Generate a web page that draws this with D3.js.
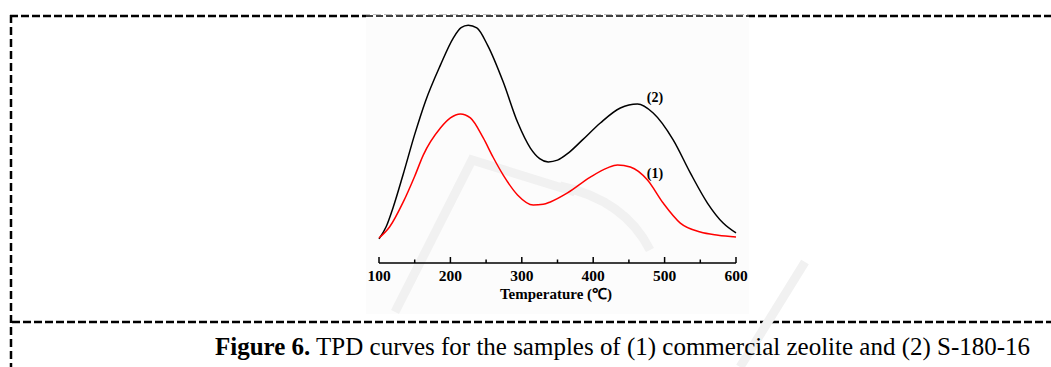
<!DOCTYPE html>
<html>
<head>
<meta charset="utf-8">
<script src="https://cdn.jsdelivr.net/npm/d3@7"></script>
<style>
  body { margin: 0; background: #fff; }
  svg text, svg tspan { font-family: "Liberation Serif", "Times New Roman", serif; }
</style>
</head>
<body>
<svg id="chart" width="1051" height="367"></svg>
<script>
/* Data (temperature in C, signal in arbitrary units) */
var blackTemps = [100, 110, 120, 134, 150, 165, 186, 204, 215, 225, 237, 252, 274, 294, 312, 325, 337, 350, 365, 385, 410, 438, 462, 484, 512, 536, 560, 582, 600];
var blackValues = [0.5, 6, 15, 30, 48, 63, 79.5, 91.8, 96.5, 97.6, 96.4, 88.6, 71.8, 53.6, 41.8, 37, 35.5, 36.3, 39.5, 45.5, 53.2, 60, 61.8, 57.7, 45.5, 30.5, 16.8, 7.7, 3.2];

var redTemps = [100, 115, 134, 150, 162, 186, 200, 214, 228, 246, 260, 274, 294, 316, 330, 340, 364, 396, 420, 434, 452, 476, 498, 522, 550, 575, 600];
var redValues = [0.9, 6, 17.3, 29, 38.6, 50.9, 55.5, 57.3, 55.5, 46.4, 37.5, 29.5, 20.5, 15.9, 16.2, 17.3, 21.4, 28.6, 32.8, 34.1, 33.2, 27.3, 16.8, 7.7, 3.6, 2.2, 1.4];

var majorTicks = [100, 200, 300, 400, 500, 600];
var minorTicks = [150, 250, 350, 450, 550];

var svg = d3.select('#chart');

// scales for the plot area
var x = d3.scaleLinear().domain([100, 600]).range([379, 736]);
var y = d3.scaleLinear().domain([0, 100]).range([240, 20]);
var axisY = 263;

/* page frame (dashed lines of the paper layout) */
svg.append('line')
   .attr('x1', 10).attr('x2', 1051).attr('y1', 16).attr('y2', 16)
   .attr('stroke', '#000').attr('stroke-width', 2.5).attr('stroke-dasharray', '8,3');
svg.append('line')
   .attr('x1', 11).attr('x2', 11).attr('y1', 15).attr('y2', 367)
   .attr('stroke', '#000').attr('stroke-width', 2.5).attr('stroke-dasharray', '8,4');
svg.append('line')
   .attr('x1', 12).attr('x2', 1051).attr('y1', 322).attr('y2', 322)
   .attr('stroke', '#000').attr('stroke-width', 2.5).attr('stroke-dasharray', '8,3');

// the pasted figure image sits on an almost white background
svg.append('rect')
   .attr('x', 366).attr('y', 15).attr('width', 383).attr('height', 299)
   .attr('fill', '#fcfcfc');
svg.append('line')
   .attr('x1', 366).attr('x2', 749).attr('y1', 16).attr('y2', 16)
   .attr('stroke', '#000').attr('stroke-width', 1.4).attr('stroke-dasharray', '7,3');

/* faint watermark strokes */
var wm = svg.append('g').attr('fill', 'none').attr('stroke', '#f1f1f1').attr('stroke-width', 9);
wm.append('path').attr('d', 'M395,312 L472,160 L575,192');
wm.append('path').attr('d', 'M560,186 Q625,200 650,250');
wm.append('path').attr('d', 'M740,367 L805,262');

/* x axis */
var g = svg.append('g').attr('transform', 'translate(0,' + axisY + ')');

g.append('line')
 .attr('x1', x(100)).attr('x2', x(600))
 .attr('stroke', '#000').attr('stroke-width', 1.5);

g.selectAll('.major').data(majorTicks).enter().append('line')
 .attr('class', 'major')
 .attr('x1', function(d) { return x(d); }).attr('x2', function(d) { return x(d); })
 .attr('y1', 0).attr('y2', -6)
 .attr('stroke', '#000').attr('stroke-width', 1.5);

g.selectAll('.minor').data(minorTicks).enter().append('line')
 .attr('class', 'minor')
 .attr('x1', function(d) { return x(d); }).attr('x2', function(d) { return x(d); })
 .attr('y1', 0).attr('y2', -3.5)
 .attr('stroke', '#000').attr('stroke-width', 1.5);

g.selectAll('.tlabel').data(majorTicks).enter().append('text')
 .attr('class', 'tlabel')
 .attr('x', function(d) { return x(d); })
 .attr('y', 18)
 .attr('text-anchor', 'middle')
 .attr('font-size', '15.5px')
 .attr('font-weight', 'bold')
 .text(function(d) { return d; });

svg.append('text')
   .attr('x', 556).attr('y', 299)
   .attr('text-anchor', 'middle')
   .attr('font-size', '15px')
   .attr('font-weight', 'bold')
   .text('Temperature (\u2103)');

/* curves */
var line = d3.line()
  .x(function(d) { return x(d[0]); })
  .y(function(d) { return y(d[1]); })
  .curve(d3.curveMonotoneX);

svg.append('path')
   .datum(d3.zip(blackTemps, blackValues))
   .attr('d', line)
   .attr('fill', 'none').attr('stroke', '#000').attr('stroke-width', 1.5);

svg.append('path')
   .datum(d3.zip(redTemps, redValues))
   .attr('d', line)
   .attr('fill', 'none').attr('stroke', '#ff0000').attr('stroke-width', 1.5);

svg.append('text')
   .attr('x', 655).attr('y', 102)
   .attr('text-anchor', 'middle')
   .attr('font-size', '14px').attr('font-weight', 'bold')
   .text('(2)');

svg.append('text')
   .attr('x', 655).attr('y', 178)
   .attr('text-anchor', 'middle')
   .attr('font-size', '14px').attr('font-weight', 'bold')
   .text('(1)');

/* caption */
var cap = svg.append('text')
   .attr('x', 215).attr('y', 355)
   .attr('font-size', '25px')
   .attr('textLength', 815)
   .attr('lengthAdjust', 'spacingAndGlyphs');
cap.append('tspan').attr('font-weight', 'bold').text('Figure 6.');
cap.append('tspan').text(' TPD curves for the samples of (1) commercial zeolite and (2) S-180-16');
</script>
</body>
</html>
